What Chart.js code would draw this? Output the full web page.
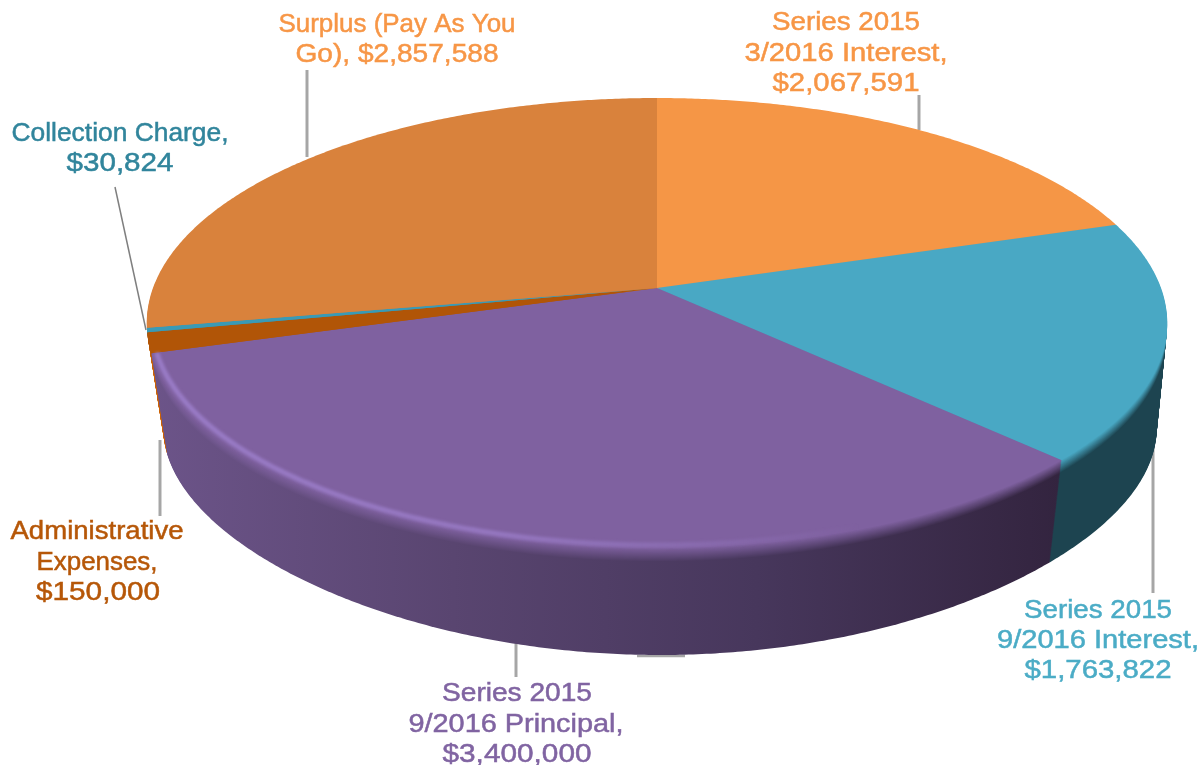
<!DOCTYPE html>
<html>
<head>
<meta charset="utf-8">
<style>html,body{margin:0;padding:0;background:#fff}canvas{display:block}</style>
<script src="https://cdn.jsdelivr.net/npm/chart.js@4"></script>
</head>
<body>
<canvas id="c" width="1204" height="765"></canvas>
<script>
// ---- data ----
const categories = ['Series 2015 3/2016 Interest','Series 2015 9/2016 Interest','Series 2015 9/2016 Principal','Administrative Expenses','Collection Charge','Surplus (Pay As You Go)'];
const values = [2067591,1763822,3400000,150000,30824,2857588];
const labelLines = [
  ['Series 2015','3/2016 Interest,','$2,067,591'],
  ['Series 2015','9/2016 Interest,','$1,763,822'],
  ['Series 2015','9/2016 Principal,','$3,400,000'],
  ['Administrative','Expenses,','$150,000'],
  ['Collection Charge,','$30,824'],
  ['Surplus (Pay As You','Go), $2,857,588']
];
// ---- styles ----
const topColors  = ['#f59646','#49a8c4','#7f61a0','#b15507','#3a9ab5','#d9823c'];
const textColors = ['#f79646','#4bacc6','#8064a2','#b65708','#31859c','#f79646'];
const sideStops  = [['#b5682a'],['#1d4450'],['#6c5489','#594570','#47375c','#33243f'],['#cc6104'],['#1d4450'],['#8f5526']];
// ---- layout: centre x, width and centre y for each label line ----
const labelLayout = [
  [[846,148,22.5],[846,203,53.5],[846,147,83.5]],
  [[1098,148,610.5],[1098,202,640.5],[1098,147,670.5]],
  [[517,150,693.5],[516,215,724.5],[517,149,754.5]],
  [[97,173,531.5],[97,121,562.5],[98,124,592.5]],
  [[120,217,133.5],[120,107,163.5]],
  [[397,237,24.5],[397,203,54.5]]
];
const leaders = [
  [307,70,307,157,3,'#a6a6a6'],[919,95,919,130,3,'#a6a6a6'],[115,187,146,330,1.5,'#7f7f7f'],
  [160,440,160,516,3,'#a6a6a6'],[1153,430,1153,593,3,'#a6a6a6'],[516,640,516,677,3,'#a6a6a6'],[637,656,685,656,2.5,'#a6a6a6']
];
const topDisc    = {x:657,y:288,a:504,b:219.6,p:0.156,q:0};
const bottomDisc = {x:660,y:390,a:488,b:212,p:0.20,q:0.08};
const LAYERS = 108;

function lerpDisc(t){const o={};for(const k in topDisc)o[k]=topDisc[k]+(bottomDisc[k]-topDisc[k])*t;return o;}
function project(d,u,v){const w=1-d.p*v;return [d.x+d.a*u*(1-d.q*v*v)/w,d.y+d.b*v/w];}
function rgb(h){return [1,3,5].map(i=>parseInt(h.substr(i,2),16));}
function mix(h1,h2,m){const a=rgb(h1),b=rgb(h2);return 'rgb('+a.map((c,i)=>Math.round(c+(b[i]-c)*m)).join(',')+')';}

// a drawing context that sends the ArcElement's own path through the tilted disc
function tiltedCtx(real,disc,el,fill){
  const cx=el.x,cy=el.y,R=el.outerRadius;let tx=0,ty=0;const st=[];
  const pt=(x,y)=>project(disc,(x+tx-cx)/R,(y+ty-cy)/R);
  const over={
    save(){st.push([tx,ty]);real.save();},
    restore(){[tx,ty]=st.pop();real.restore();},
    translate(x,y){tx+=x;ty+=y;},
    moveTo(x,y){const p=pt(x,y);real.moveTo(p[0],p[1]);},
    lineTo(x,y){const p=pt(x,y);real.lineTo(p[0],p[1]);},
    arc(x,y,r,a0,a1,ccw){
      let d=a1-a0;if(ccw&&d>0)d-=2*Math.PI;if(!ccw&&d<0)d+=2*Math.PI;
      const n=Math.max(2,Math.ceil(Math.abs(d)/0.008));
      for(let i=0;i<=n;i++){const a=a0+d*i/n;const p=pt(x+r*Math.cos(a),y+r*Math.sin(a));real.lineTo(p[0],p[1]);}
    }
  };
  return new Proxy(real,{
    get(t,k){if(k in over)return over[k];const v=t[k];return typeof v==='function'?v.bind(t):v;},
    set(t,k,v){if(k==='fillStyle')t[k]=fill;else t[k]=v;return true;}
  });
}

const pie3d={
  id:'pie3d',
  beforeDatasetsDraw(chart){
    const ctx=chart.ctx,arcs=chart.getDatasetMeta(0).data;
    leaders.forEach(l=>{ctx.save();ctx.strokeStyle=l[5];ctx.lineWidth=l[4];ctx.beginPath();ctx.moveTo(l[0],l[1]);ctx.lineTo(l[2],l[3]);ctx.stroke();ctx.restore();});
    // walls: stacked copies of each slice from the lower disc up to the top disc
    for(let i=LAYERS;i>=1;i--){
      const t=i/LAYERS,d=lerpDisc(t),m=Math.min(1,t/0.13);
      arcs.forEach((el,k)=>{
        const stops=sideStops[k];
        const g=ctx.createLinearGradient(150,0,1060,0);
        stops.forEach((s,j)=>g.addColorStop(stops.length>1?j/(stops.length-1):0,mix(topColors[k],s,m)));
        el.draw(tiltedCtx(ctx,d,el,g));
      });
    }
    // top face
    ctx.save();ctx.filter='blur(0.6px)';
    arcs.forEach((el,k)=>el.draw(tiltedCtx(ctx,topDisc,el,topColors[k])));
    ctx.restore();
    // light rim on the front-left of the large slice
    const el=arcs[2];
    const hg=ctx.createLinearGradient(150,0,860,0);
    hg.addColorStop(0,'rgba(158,128,205,0.85)');hg.addColorStop(0.5,'rgba(158,128,205,0.7)');hg.addColorStop(1,'rgba(158,128,205,0)');
    ctx.save();ctx.filter='blur(1.5px)';ctx.strokeStyle=hg;ctx.lineWidth=5;ctx.beginPath();
    for(let a=el.startAngle;a<=el.endAngle;a+=0.01){const p=project(topDisc,0.99*Math.cos(a),0.99*Math.sin(a));ctx.lineTo(p[0],p[1]);}
    ctx.stroke();ctx.restore();
    return false;
  },
  afterDraw(chart){
    const ctx=chart.ctx;
    labelLines.forEach((lines,k)=>lines.forEach((s,j)=>{
      const [cx,w,cy]=labelLayout[k][j];
      ctx.save();
      ctx.font='26px "Liberation Sans"';ctx.textAlign='center';ctx.textBaseline='middle';ctx.fillStyle=textColors[k];
      ctx.strokeStyle=textColors[k];ctx.lineWidth=0.5;
      ctx.translate(cx,cy);ctx.scale(w/ctx.measureText(s).width,1);
      ctx.fillText(s,0,0);ctx.strokeText(s,0,0);ctx.restore();
    }));
  }
};

new Chart(document.getElementById('c'),{
  type:'pie',
  data:{labels:categories,datasets:[{data:values,backgroundColor:topColors,borderWidth:0}]},
  options:{responsive:false,animation:false,plugins:{legend:{display:false},tooltip:{enabled:false}}},
  plugins:[pie3d]
});
</script>
</body>
</html>
